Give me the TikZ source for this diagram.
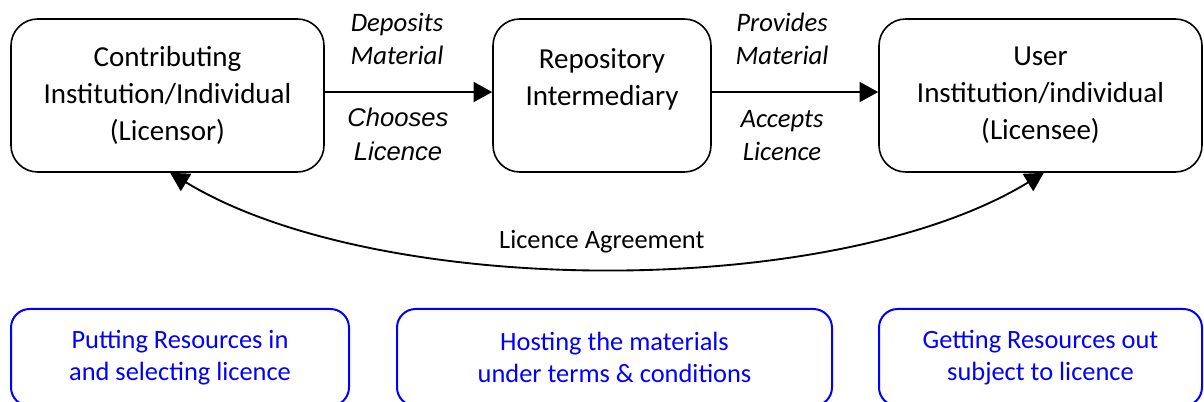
\documentclass[tikz,border=0pt]{standalone}
\usepackage{fontspec}
\setmainfont{Carlito}
\newfontfamily\arialfont{Liberation Sans}
\usetikzlibrary{arrows.meta}

\begin{document}
\begin{tikzpicture}[x=0.75pt,y=-0.75pt,
  actor/.style={draw, line width=1.2pt, rounded corners=20pt, align=center,
    inner sep=0pt, minimum height=153*0.75pt,
    font=\fontsize{21.75}{27.75}\selectfont},
  rolebox/.style={draw=blue, text=blue, line width=1.5pt, rounded corners=14pt,
    align=center, inner sep=0pt, minimum height=97*0.75pt,
    font=\fontsize{19.8}{24}\selectfont},
  flowlabel/.style={align=center, inner sep=0pt,
    font=\fontsize{20}{24.75}\selectfont\itshape},
  licencelabel/.style={align=center, inner sep=0pt,
    font=\arialfont\fontsize{19.2}{25.5}\selectfont\itshape},
  tip/.tip={Triangle[length=14pt,width=15pt]},
  flow/.style={line width=1.4pt, -tip},
]
\useasboundingbox (0,0) rectangle (1204,402);
\clip (0,0) rectangle (1204,402);

% parties
\node[actor, minimum width=313*0.75pt] (licensor) at (167.5,95.5)
  {Contributing\\Institution/Individual\\(Licensor)};
\node[actor, minimum width=218*0.75pt] (repo) at (602,95.5)
  {Repository\\Intermediary\\\mbox{}};
\node[actor, minimum width=323*0.75pt] (licensee) at (1040.5,95.5)
  {User\\Institution/individual\\(Licensee)};

% material flow
\draw[flow] ([yshift=2.6pt]licensor.east) -- ([yshift=2.6pt]repo.west);
\draw[flow] ([yshift=2.6pt]repo.east) -- ([yshift=2.6pt]licensee.west);

\node[flowlabel] (deposits) at (397,39) {Deposits\\Material};
\node[licencelabel] (chooses) at (398,134) {Chooses\\Licence};
\node[flowlabel] (provides) at (782,39) {Provides\\Material};
\node[flowlabel] (accepts) at (782,136) {Accepts\\Licence};

% agreement between licensor and licensee
\draw[line width=1.4pt, tip-tip]
  ([xshift=2pt]licensor.south) .. controls (380,300) and (836,300) ..
  ([xshift=2.5pt]licensee.south)
  node[pos=0.5, anchor=south, yshift=7pt, xshift=-4.5pt,
       font=\fontsize{19.8}{24}\selectfont] (agreement) {Licence Agreement};

% roles
\node[rolebox, minimum width=338*0.75pt] (putting) at (180,357.5)
  {Putting Resources in\\and selecting licence};
\node[rolebox, minimum width=435*0.75pt] (hosting) at (614.5,357.5)
  {Hosting the materials\\under terms \& conditions};
\node[rolebox, minimum width=323*0.75pt] (getting) at (1040.5,357.5)
  {Getting Resources out\\subject to licence};
\end{tikzpicture}
\end{document}
